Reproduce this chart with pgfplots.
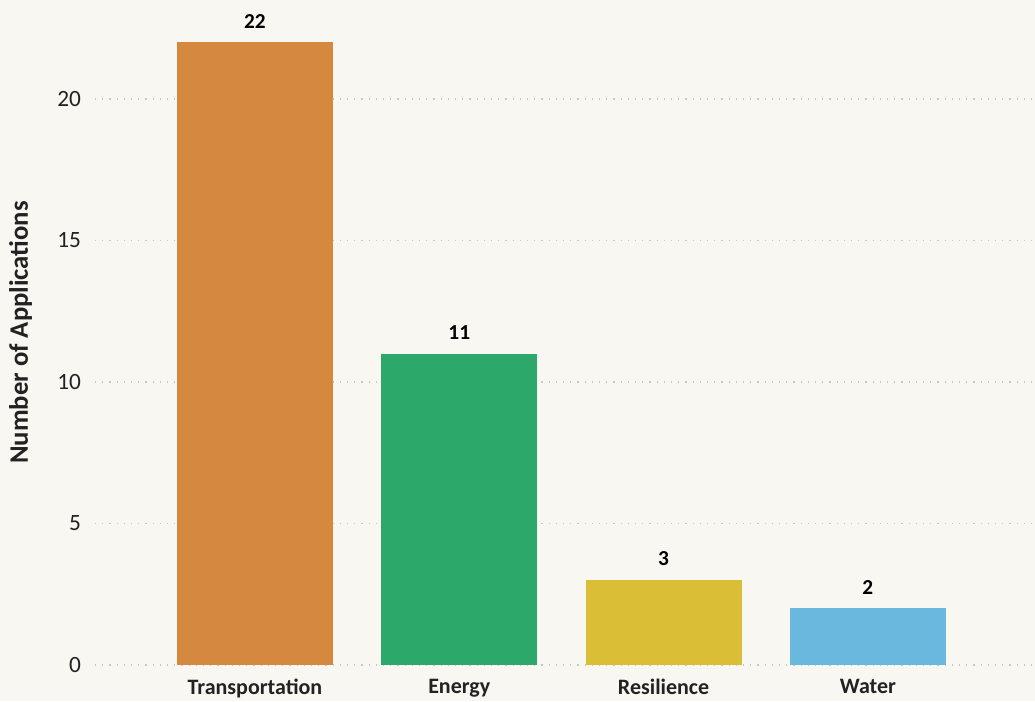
\documentclass[border=0pt]{standalone}
\usepackage{pgfplots}
\pgfplotsset{compat=1.18}
\usepackage{fontspec}
\setmainfont{Carlito}
\definecolor{bg}{HTML}{F9F7F2}
\definecolor{cOrange}{HTML}{D5893F}
\definecolor{cGreen}{HTML}{2BA86A}
\definecolor{cYellow}{HTML}{D9BE36}
\definecolor{cBlue}{HTML}{6BB8DF}
\definecolor{gridc}{HTML}{C8C6C0}
\definecolor{txt}{HTML}{222222}
\begin{document}
\begin{tikzpicture}
\fill[bg] (0,0) rectangle (776.25pt,525.75pt);
\useasboundingbox (0,0) rectangle (776.25pt,525.75pt);
\begin{axis}[
    at={(71.25pt,27pt)}, anchor=south west,
    scale only axis,
    width=705pt, height=498.75pt,
    xmin=-0.783, xmax=3.818,
    ymin=0, ymax=23.5,
    axis line style={draw=none},
    tick style={draw=none},
    xtick={0,1,2,3},
    xticklabels={Transportation,Energy,Resilience,Water},
    x tick label style={font=\fontsize{16.5}{18}\selectfont\bfseries, text=txt, yshift=-3pt},
    ytick={0,5,10,15,20},
    y tick label style={font=\fontsize{17.5}{19}\selectfont, text=txt, xshift=-7pt},
    /pgf/number format/assume math mode=true,
    ymajorgrids,
    grid style={gridc, line width=0.9pt, dash pattern=on 0.9pt off 4.5pt},
    ylabel={Number of Applications},
    ylabel style={font=\fontsize{20}{22}\selectfont\bfseries, text=txt, yshift=12pt},
    ybar, bar width=117pt, bar shift=0pt,
    nodes near coords,
    every node near coord/.append style={font=\fontsize{16}{18}\selectfont\bfseries, text=black, yshift=7pt},
    clip=false,
]
\addplot[fill=cOrange, draw=none] coordinates {(0,22)};
\addplot[fill=cGreen, draw=none] coordinates {(1,11)};
\addplot[fill=cYellow, draw=none] coordinates {(2,3)};
\addplot[fill=cBlue, draw=none] coordinates {(3,2)};
\end{axis}
\end{tikzpicture}
\end{document}
